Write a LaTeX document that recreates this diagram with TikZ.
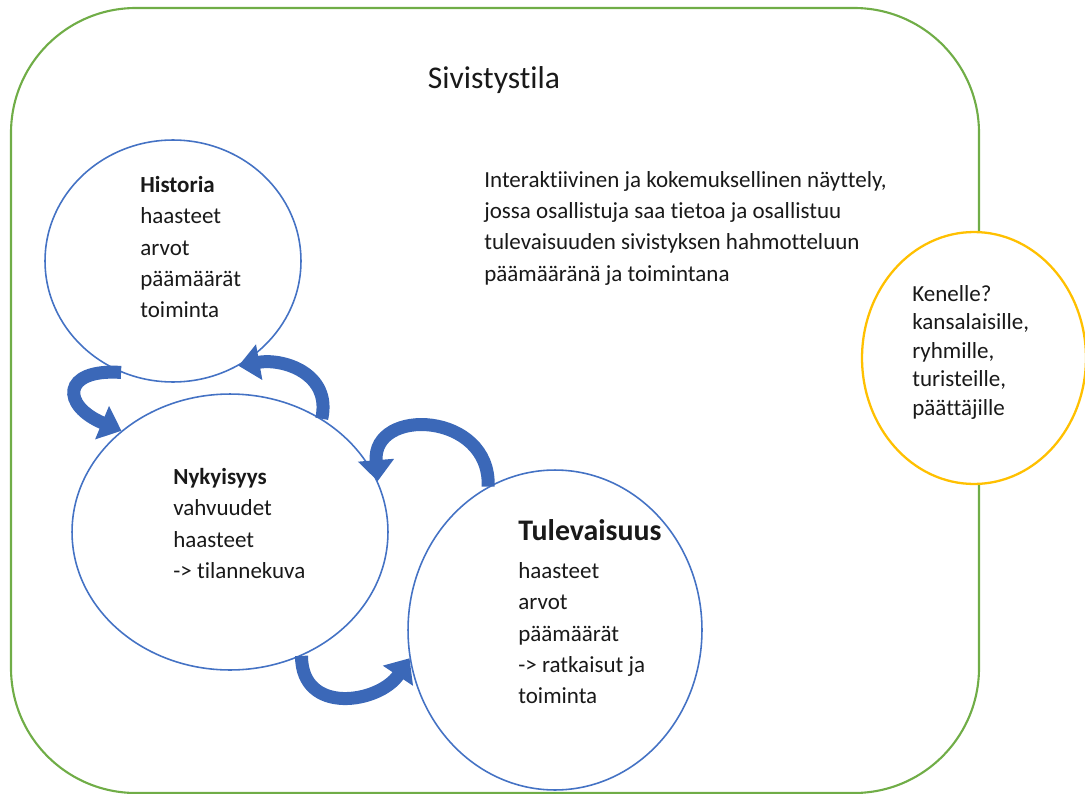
\documentclass[tikz,border=0pt]{standalone}
\usepackage{fontspec}
\setmainfont{Carlito}[Ligatures={NoCommon,NoContextual}]
\usetikzlibrary{
  positioning,
  shapes.geometric,
  arrows.meta
}
\definecolor{framegreen}{HTML}{70AD47}
\definecolor{phaseblue}{HTML}{4472C4}
\definecolor{turnblue}{HTML}{3B68B8}
\definecolor{whoyellow}{HTML}{FFC000}
\newcommand{\bodysize}{\fontsize{13.1}{17.8}\selectfont}

\begin{document}
\begin{tikzpicture}[
    x=0.02cm, y=-0.02cm, font=\bodysize, text=black!90,
    frame/.style={
      draw=framegreen,
      line width=1.2pt,
      rounded corners=2.5cm
    },
    phase/.style={
      ellipse,
      draw=phaseblue,
      line width=0.9pt,
      fill=white,
      inner sep=0pt
    },
    who/.style={
      ellipse,
      draw=whoyellow,
      line width=1.3pt,
      fill=white,
      inner sep=0pt
    },
    txt/.style={
      anchor=north west,
      align=left,
      inner sep=0pt
    },
    turn/.style={
      draw=turnblue,
      line width=0.26cm,
      -{Triangle[width=0.7cm,length=0.42cm]}
    }
  ]
  \useasboundingbox (0,0) rectangle (1085,794);

  % Frame
  \draw[frame] (11,8) rectangle (979,793);
  \node[font=\fontsize{18}{22}\selectfont] (title) at (494,80) {Sivistystila};

  % Circles
  \node[phase, minimum width=5.12cm, minimum height=4.84cm] (hist) at (173,261) {};
  \node[phase, minimum width=6.32cm, minimum height=5.52cm] (nyky) at (230,532) {};
  \node[phase, minimum width=5.88cm, minimum height=6.4cm] (tul) at (555,630) {};
  \node[who, minimum width=4.48cm, minimum height=5.04cm] (who) at (974,358) {};

  % Turning arrows
  \draw[turn] (hist.245) .. controls +(-60,-4) and +(-60,-25) .. (nyky.137);
  \draw[turn] (nyky.51) .. controls +(10,-45) and +(45,-8) .. (hist.302);
  \draw[turn] (tul.115) .. controls +(3,-75) and +(-6,-75) .. (nyky.19);
  \draw[turn] (nyky.300) .. controls +(0,60) and +(-30,45) .. (tul.191);

  % Texts
  \node[txt] (histtxt) at (140,176) {\textbf{Historia}\\haasteet\\arvot\\päämäärät\\toiminta};
  \node[txt] (nykytxt) at (173,468) {\textbf{Nykyisyys}\\vahvuudet\\haasteet\\-> tilannekuva};
  \node[txt] (tultxt) at (518,519) {{\fontsize{17}{21}\selectfont\bfseries Tulevaisuus}\\[4pt]haasteet\\arvot\\päämäärät\\-> ratkaisut ja\\toiminta};
  \node[txt] (about) at (484,171) {Interaktiivinen ja kokemuksellinen näyttely,\\jossa osallistuja saa tietoa ja osallistuu\\tulevaisuuden sivistyksen hahmotteluun\\päämääränä ja toimintana};
  \node[txt, font=\fontsize{13.1}{16.2}\selectfont] (whotxt) at (912,285) {Kenelle?\\kansalaisille,\\ryhmille,\\turisteille,\\päättäjille};

\end{tikzpicture}
\end{document}
